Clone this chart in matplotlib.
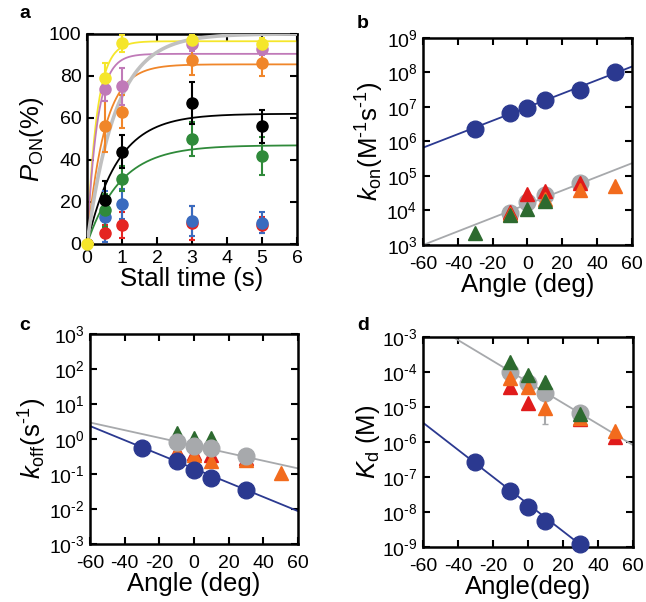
import numpy as np
import matplotlib
matplotlib.use("Agg")
import matplotlib.pyplot as plt

plt.rcParams['font.family'] = ['Liberation Sans', 'DejaVu Sans']
plt.rcParams['mathtext.fontset'] = 'custom'
plt.rcParams['mathtext.rm'] = 'Liberation Sans'
plt.rcParams['mathtext.it'] = 'Liberation Sans:italic'
plt.rcParams['mathtext.bf'] = 'Liberation Sans:bold'
plt.rcParams['axes.unicode_minus'] = False

# ---- panel a data ----
t = [0, 0.5, 1, 3, 5]
a_names = ['yellow', 'purple', 'orange', 'black', 'green', 'blue', 'red']
a_colors = ['#f5e62b', '#c07ab8', '#f0862a', '#000000', '#2f8a3a', '#3a6bbf', '#e52421']
a_vals = [
    [0, 79, 95.5, 97, 95],
    [0, 74, 75, 95, 93],
    [0, 56, 63, 87.5, 86],
    [0, 21, 44, 67, 56],
    [0, 16, 31, 50, 42],
    [0, 13, 19, 11, 10],
    [0, 5, 9, 10, 9],
]
a_errs = [
    [0, 7, 4, 3, 3],
    [0, 6, 9, 3, 3],
    [0, 12, 8, 7, 6],
    [0, 9, 8, 10, 8],
    [0, 8, 6, 8, 9],
    [0, 12, 7, 7, 5],
    [0, 4, 6, 8, 4],
]
# fitted amplitude / time constant for each curve (None = no fit)
fit_amp = [96.5, 90.5, 85.5, 62, 47, None, None]
fit_tau = [0.28, 0.29, 0.5, 0.87, 0.95, None, None]
gray_amp, gray_tau = 100, 0.82

# ---- panels b-d data (log10 values) ----
ang_blue = [-30, -10, 0, 10, 30]
ang_blue_b = [-30, -10, 0, 10, 30, 50]
ang_gray = [-10, 0, 10, 30]

kon_blue = [6.35, 6.82, 6.98, 7.2, 7.49, 8.0]
kon_gray = [3.92, 4.26, 4.45, 4.79]
kon_red_ang = [-10, 0, 10, 30]
kon_red = [3.95, 4.48, 4.57, 4.8]
kon_orange_ang = [-10, 10, 30, 50]
kon_orange = [3.9, 4.32, 4.59, 4.71]
kon_green_ang = [-30, -10, 0, 10]
kon_green = [3.34, 3.87, 4.03, 4.27]
kon_blue_line = [5.82, 8.17]
kon_gray_line = [3.0, 5.37]

koff_blue = [-0.25, -0.62, -0.9, -1.12, -1.46]
koff_gray = [-0.1, -0.19, -0.25, -0.5]
koff_green_ang = [-10, 0, 10]
koff_green = [0.18, 0.04, 0.04]
koff_red_ang = [-10, 0, 10, 30]
koff_red = [-0.35, -0.4, -0.46, -0.55]
koff_orange_ang = [-10, 0, 10, 30, 50]
koff_orange = [-0.36, -0.45, -0.62, -0.6, -0.98]
koff_blue_line = [0.37, -2.06]
koff_gray_line = [0.47, -0.84]

kd_blue = [-6.58, -7.39, -7.85, -8.25, -8.91]
kd_gray = [-3.99, -4.31, -4.61, -5.18]
kd_green_ang = [-10, 0, 10, 30]
kd_green = [-3.73, -4.09, -4.28, -5.21]
kd_orange_ang = [-10, 0, 10, 30, 50]
kd_orange = [-4.18, -4.44, -5.04, -5.33, -5.7]
kd_orange_err_lo = [0, 0, 0.45, 0, 0]
kd_red_ang = [-10, 0, 30, 50]
kd_red = [-4.42, -4.9, -5.35, -5.85]
kd_blue_line = [-5.45, -10.1]
kd_gray_line = [-2.49, -6.09]

line_x = [-60, 60]

NAVY = '#2b3990'
GRAY = '#a7a9ac'
RED = '#e01b1b'
ORANGE = '#f26b1d'
DGREEN = '#2d6a2f'

fig = plt.figure(figsize=(6.46, 6.02), dpi=100)
axa = fig.add_axes([0.1347, 0.5947, 0.325, 0.349])
axb = fig.add_axes([0.6548, 0.593, 0.3235, 0.344])
axc = fig.add_axes([0.1393, 0.0963, 0.322, 0.349])
axd = fig.add_axes([0.6548, 0.0914, 0.325, 0.349])

TICK_FS = 14
LAB_FS = 18.5


def style(ax, xpad=4):
    for s in ax.spines.values():
        s.set_linewidth(1.8)
    ax.tick_params(direction='in', length=5, width=1.5, top=True, right=True,
                   labelsize=TICK_FS, pad=4)
    ax.tick_params(axis='x', pad=xpad)
    ax.tick_params(which='minor', length=0)


# panel a
tt = np.linspace(0, 6, 300)
for i in range(len(a_names)):
    if fit_amp[i] is not None:
        axa.plot(tt, fit_amp[i] * (1 - np.exp(-tt / fit_tau[i])), color=a_colors[i], lw=1.3, zorder=2)
axa.plot(tt, gray_amp * (1 - np.exp(-tt / gray_tau)), color='#c0c0c0', lw=2.6, zorder=3)
for i in reversed(range(len(a_names))):
    axa.errorbar(t, a_vals[i], yerr=a_errs[i], fmt='o', color=a_colors[i], ms=8,
                 elinewidth=1.5, capsize=2.5, capthick=1.5, zorder=4)
axa.plot([0], [0], 'o', color=a_colors[0], ms=8, zorder=10, clip_on=False)
axa.set_xlim(0, 6)
axa.set_ylim(0, 100)
axa.set_xticks(range(7))
axa.set_yticks(range(0, 101, 20))
axa.set_xlabel('Stall time (s)', fontsize=LAB_FS, labelpad=0)
axa.set_ylabel(r'$P_{\mathrm{ON}}$(%)', fontsize=LAB_FS, labelpad=2)
style(axa)


def log_ticks(ax, lo, hi):
    ax.set_yscale('log')
    ax.set_ylim(10.0 ** lo, 10.0 ** hi)
    ax.set_yticks([10.0 ** k for k in range(lo, hi + 1)])
    ax.set_yticklabels([r'$10^{\text{%d}}$' % k for k in range(lo, hi + 1)])
    ax.set_xlim(-60, 60)
    ax.set_xticks(range(-60, 61, 20))


def p10(v):
    return [10.0 ** x for x in v]


MS_C = 12
MS_T = 10

# panel b
axb.plot(line_x, p10(kon_blue_line), color=NAVY, lw=1.3, zorder=2)
axb.plot(line_x, p10(kon_gray_line), color=GRAY, lw=1.3, zorder=2)
axb.plot(ang_blue_b, p10(kon_blue), 'o', color=NAVY, ms=MS_C, zorder=3)
axb.plot(ang_gray, p10(kon_gray), 'o', color=GRAY, ms=MS_C, zorder=3)
axb.plot(kon_red_ang, p10(kon_red), '^', color=RED, ms=MS_T, zorder=4)
axb.plot(kon_orange_ang, p10(kon_orange), '^', color=ORANGE, ms=MS_T, zorder=5)
axb.plot(kon_green_ang, p10(kon_green), '^', color=DGREEN, ms=MS_T, zorder=6)
log_ticks(axb, 3, 9)
axb.set_xlabel('Angle (deg)', fontsize=LAB_FS, labelpad=0)
axb.set_ylabel(r'$k_{\mathrm{on}}$(M$^{\text{-1}}$s$^{\text{-1}}$)', fontsize=LAB_FS, labelpad=0)
style(axb, xpad=8)

# panel c
axc.plot(line_x, p10(koff_blue_line), color=NAVY, lw=1.3, zorder=2)
axc.plot(line_x, p10(koff_gray_line), color=GRAY, lw=1.3, zorder=2)
axc.plot(koff_green_ang, p10(koff_green), '^', color=DGREEN, ms=MS_T, zorder=3)
axc.plot(koff_red_ang, p10(koff_red), '^', color=RED, ms=MS_T, zorder=3)
axc.plot(koff_orange_ang, p10(koff_orange), '^', color=ORANGE, ms=MS_T, zorder=3)
axc.plot(ang_gray, p10(koff_gray), 'o', color=GRAY, ms=MS_C, zorder=4)
axc.plot(ang_blue, p10(koff_blue), 'o', color=NAVY, ms=MS_C, zorder=5)
log_ticks(axc, -3, 3)
axc.set_xlabel('Angle (deg)', fontsize=LAB_FS, labelpad=0)
axc.set_ylabel(r'$k_{\mathrm{off}}$(s$^{\text{-1}}$)', fontsize=LAB_FS, labelpad=0)
style(axc, xpad=8)

# panel d
axd.plot(line_x, p10(kd_blue_line), color=NAVY, lw=1.3, zorder=2)
axd.plot(line_x, p10(kd_gray_line), color=GRAY, lw=1.3, zorder=2)
axd.plot(ang_blue, p10(kd_blue), 'o', color=NAVY, ms=MS_C, zorder=3, clip_on=False)
axd.plot(ang_gray, p10(kd_gray), 'o', color=GRAY, ms=MS_C, zorder=3)
kd_o = np.array(kd_orange)
axd.errorbar(kd_orange_ang, p10(kd_o), yerr=[10.0 ** kd_o - 10.0 ** (kd_o - np.array(kd_orange_err_lo)),
                                              np.zeros(len(kd_o))],
             fmt='none', ecolor=GRAY, elinewidth=1.5, capsize=2, zorder=3)
axd.plot(kd_red_ang, p10(kd_red), '^', color=RED, ms=MS_T, zorder=4)
axd.plot(kd_orange_ang, p10(kd_orange), '^', color=ORANGE, ms=MS_T, zorder=5)
axd.plot(kd_green_ang, p10(kd_green), '^', color=DGREEN, ms=MS_T, zorder=6)
log_ticks(axd, -9, -3)
axd.set_xlabel('Angle(deg)', fontsize=LAB_FS, labelpad=0)
axd.set_ylabel(r'$K_{\mathrm{d}}$ (M)', fontsize=LAB_FS, labelpad=0)
style(axd, xpad=8)

# panel letters
for lab, x, y in [('a', 25, 13), ('b', 363, 23), ('c', 25, 325), ('d', 363, 325)]:
    fig.text(x / 646, 1 - y / 602, lab, fontsize=14, fontweight='bold', ha='center', va='center')

fig.savefig('out.png', dpi=100)
